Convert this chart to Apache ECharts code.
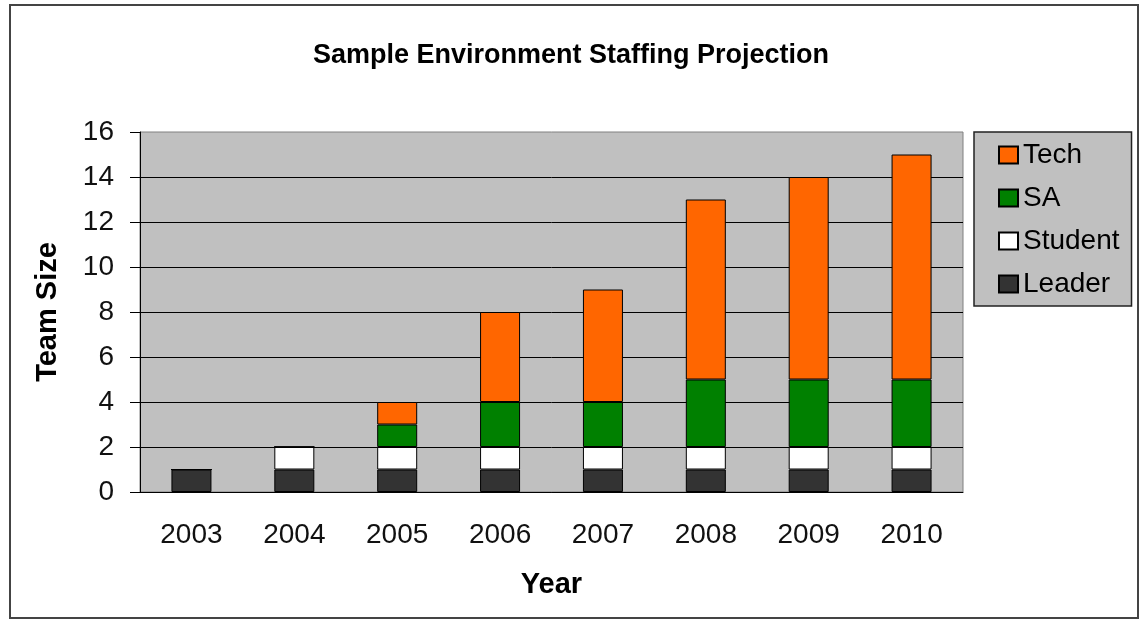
<!DOCTYPE html>
<html>
<head>
<meta charset="utf-8">
<script src="https://cdn.jsdelivr.net/npm/echarts@6/dist/echarts.min.js"></script>
<style>
  html, body { margin: 0; padding: 0; background: #fff; }
  #chart { width: 1140px; height: 620px; }
</style>
</head>
<body>
<div id="chart"></div>
<script>
// Staffing projection per year, stacked by role
const years = ['2003', '2004', '2005', '2006', '2007', '2008', '2009', '2010'];
const leader = [1, 1, 1, 1, 1, 1, 1, 1];
const student = [0, 1, 1, 1, 1, 1, 1, 1];
const sa = [0, 0, 1, 2, 2, 3, 3, 3];
const tech = [0, 0, 1, 4, 5, 8, 9, 10];
const yTicks = { min: 0, max: 16, interval: 2 };
const legendOrder = ['Tech', 'SA', 'Student', 'Leader'];

const font = 'Liberation Sans, Arial, sans-serif';

function barSeries(name, data, color) {
  return {
    name: name,
    type: 'bar',
    stack: 'team',
    data: data,
    barWidth: 40,
    itemStyle: { color: color, borderColor: '#000', borderWidth: 1 },
    emphasis: { disabled: true }
  };
}

const chart = echarts.init(document.getElementById('chart'), null, { renderer: 'canvas' });
chart.setOption({
  animation: false,
  backgroundColor: '#fff',
  textStyle: { fontFamily: font },
  title: {
    text: 'Sample Environment Staffing Projection',
    left: 566, top: 37, textAlign: 'center',
    textStyle: { fontFamily: font, fontSize: 27, fontWeight: 'bold', color: '#000' }
  },
  graphic: [{
    type: 'rect',
    shape: { x: 10, y: 5, width: 1128, height: 613 },
    style: { fill: 'none', stroke: '#444', lineWidth: 2 },
    z: -1
  }],
  legend: {
    orient: 'vertical',
    left: 974, top: 132,
    padding: [9, 12, 8, 24],
    itemGap: 15,
    itemWidth: 19, itemHeight: 17,
    icon: 'rect',
    backgroundColor: '#c0c0c0',
    borderColor: '#222', borderWidth: 1.5,
    data: legendOrder,
    textStyle: { fontFamily: font, fontSize: 28, color: '#000' }
  },
  grid: {
    left: 140, right: 177, top: 132, bottom: 128,
    show: true, backgroundColor: '#c0c0c0', borderWidth: 1, borderColor: '#808080'
  },
  xAxis: {
    type: 'category',
    data: years,
    name: 'Year',
    nameLocation: 'middle',
    nameGap: 78,
    nameTextStyle: { fontFamily: font, fontSize: 29, fontWeight: 'bold', color: '#000' },
    axisLine: { lineStyle: { color: '#000', width: 1 } },
    axisTick: { length: 10, lineStyle: { color: '#000' } },
    axisLabel: { fontFamily: font, fontSize: 28, color: '#111', margin: 29 }
  },
  yAxis: {
    type: 'value',
    min: yTicks.min, max: yTicks.max, interval: yTicks.interval,
    name: 'Team Size',
    nameLocation: 'middle',
    nameGap: 78,
    nameTextStyle: { fontFamily: font, fontSize: 29, fontWeight: 'bold', color: '#000' },
    axisLine: { show: true, lineStyle: { color: '#000', width: 1 } },
    axisTick: { show: true, length: 10, lineStyle: { color: '#000' } },
    axisLabel: { fontFamily: font, fontSize: 28, color: '#111', margin: 26 },
    splitLine: { show: true, showMaxLine: false, lineStyle: { color: '#000', width: 1 } }
  },
  series: [
    barSeries('Leader', leader, '#333333'),
    barSeries('Student', student, '#ffffff'),
    barSeries('SA', sa, '#008000'),
    barSeries('Tech', tech, '#ff6600')
  ]
});
</script>
</body>
</html>
